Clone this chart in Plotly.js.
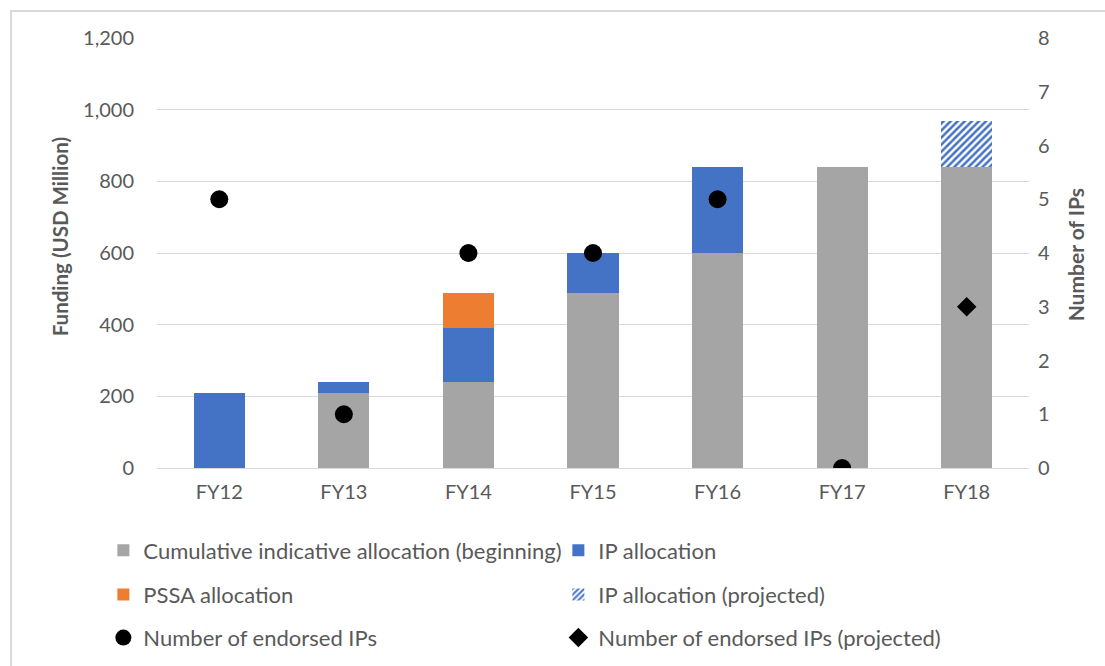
<!DOCTYPE html>
<html>
<head>
<meta charset="utf-8">
<script src="https://cdn.plot.ly/plotly-3.0.1.min.js"></script>
<style>
  html, body { margin: 0; padding: 0; background: #ffffff; overflow: hidden; }
  #frame { position: absolute; left: 10px; top: 10px; width: 1095px; height: 656px;
           border-top: 2px solid #d9d9d9; border-left: 2px solid #d9d9d9; }
  #chart { width: 1095px; height: 656px; }
</style>
</head>
<body>
<div id="frame"><div id="chart"></div></div>
<script>
// ---- data ----
const years = ["FY12", "FY13", "FY14", "FY15", "FY16", "FY17", "FY18"];
const cumulativeIndicative = [0, 210, 240, 488, 600, 840, 840];
const ipAllocation = [210, 30, 152, 112, 240, 0, 0];
const pssaAllocation = [0, 0, 95, 0, 0, 0, 0];
const ipProjected = [0, 0, 0, 0, 0, 0, 128];
const endorsedIPs = [5, 1, 4, 4, 5, 0, null];
const endorsedIPsProjected = [null, null, null, null, null, null, 3];
const leftTicks = [0, 200, 400, 600, 800, 1000, 1200];
const leftTickLabels = ["0", "200", "400", "600", "800", "1,000", "1,200"];
const rightTicks = [0, 1, 2, 3, 4, 5, 6, 7, 8];

const FONT = "Lato, 'Open Sans', sans-serif";
const TXT = "#595959";

const traces = [
  { type: "bar", name: "Cumulative indicative allocation (beginning)", x: years, y: cumulativeIndicative,
    marker: { color: "#a5a5a5" }, legend: "legend" },
  { type: "bar", name: "IP allocation", x: years, y: ipAllocation,
    marker: { color: "#4472c4" }, legend: "legend" },
  { type: "bar", name: "PSSA allocation", x: years, y: pssaAllocation,
    marker: { color: "#ed7d31" }, legend: "legend2" },
  { type: "bar", name: "IP allocation (projected)", x: years, y: ipProjected,
    marker: { color: "#ffffff", pattern: { shape: "/", fgcolor: "#4472c4", bgcolor: "#ffffff", size: 5, solidity: 0.5 } },
    legend: "legend2" },
  { type: "scatter", mode: "markers", name: "Number of endorsed IPs", x: years, y: endorsedIPs, yaxis: "y2",
    marker: { symbol: "circle", color: "#000000", size: 18 }, legend: "legend3" },
  { type: "scatter", mode: "markers", name: "Number of endorsed IPs (projected)", x: years, y: endorsedIPsProjected, yaxis: "y2",
    marker: { symbol: "diamond", color: "#000000", size: 15 }, legend: "legend3" }
];

function legendRow(y) {
  return {
    orientation: "h", x: -0.0615, xanchor: "left", y: y, yanchor: "top",
    entrywidth: 410, entrywidthmode: "pixels",
    font: { size: 22, color: TXT, family: FONT }, itemwidth: 30, traceorder: "normal",
    bgcolor: "rgba(0,0,0,0)"
  };
}

const layout = {
  width: 1095, height: 656,
  margin: { l: 145, r: 78, t: 26, b: 200, autoexpand: false },
  paper_bgcolor: "#ffffff", plot_bgcolor: "#ffffff",
  font: { family: FONT, size: 20, color: TXT },
  barmode: "stack",
  bargap: 0.59,
  showlegend: true,
  xaxis: {
    type: "category", showgrid: false, showline: true, linecolor: "#d9d9d9", linewidth: 1,
    ticks: "", tickfont: { size: 20, color: TXT }, ticklabelstandoff: 6, automargin: false
  },
  yaxis: {
    range: [0, 1200], tickvals: leftTicks, ticktext: leftTickLabels,
    showgrid: true, gridcolor: "#d9d9d9", gridwidth: 1, zeroline: false, showline: false,
    ticks: "", ticklabelstandoff: 22, tickfont: { size: 20, color: TXT }, automargin: false
  },
  yaxis2: {
    overlaying: "y", side: "right", range: [0, 8], tickvals: rightTicks,
    showgrid: false, zeroline: false, showline: false, ticks: "", ticklabelstandoff: 8,
    tickfont: { size: 20, color: TXT }, automargin: false
  },
  annotations: [
    { text: "Funding (USD Million)", xref: "paper", yref: "paper", x: -0.111, y: 0.537,
      xanchor: "center", yanchor: "middle", textangle: -90, showarrow: false,
      font: { size: 20.5, color: TXT, family: FONT, weight: "bold" } },
    { text: "Number of IPs", xref: "paper", yref: "paper", x: 1.053, y: 0.495,
      xanchor: "center", yanchor: "middle", textangle: -90, showarrow: false,
      font: { size: 21, color: TXT, family: FONT, weight: "bold" } }
  ],
  legend: legendRow(-0.143),
  legend2: legendRow(-0.246),
  legend3: legendRow(-0.346)
};

Plotly.newPlot("chart", traces, layout, { staticPlot: true, displayModeBar: false });
</script>
</body>
</html>
